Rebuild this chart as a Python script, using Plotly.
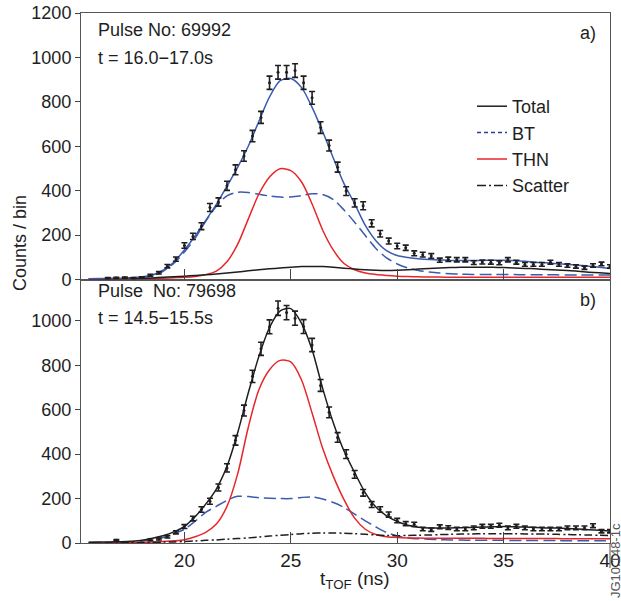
import plotly.graph_objects as go

# ---------------- data ----------------
T_BINS = [16.4, 16.8, 17.2, 17.6, 18.0, 18.4, 18.8, 19.2, 19.6, 20.0,
          20.4, 20.8, 21.2, 21.6, 22.0, 22.4, 22.8, 23.2, 23.6, 24.0,
          24.4, 24.8, 25.2, 25.6, 26.0, 26.4, 26.8, 27.2, 27.6, 28.0,
          28.4, 28.8, 29.2, 29.6, 30.0, 30.4, 30.8, 31.2, 31.6, 32.0,
          32.4, 32.8, 33.2, 33.6, 34.0, 34.4, 34.8, 35.2, 35.6, 36.0,
          36.4, 36.8, 37.2, 37.6, 38.0, 38.4, 38.8, 39.2, 39.6, 40.0]

COUNTS_A = [6, 7, 8, 6, 9, 19, 30, 60, 92, 153,
            194, 240, 324, 349, 422, 494, 556, 646, 730, 886,
            933, 933, 941, 886, 818, 684, 603, 506, 398, 345,
            332, 253, 206, 173, 151, 143, 118, 112, 106, 87,
            91, 89, 89, 76, 79, 78, 75, 89, 78, 68,
            68, 68, 78, 68, 63, 59, 53, 63, 70, 59]

COUNTS_B = [None, 12, None, None, None, 14, 18, 28, 48, 74,
            110, 151, 188, 250, 338, 462, 596, 750, 874, 973,
            1057, 1037, 1012, 974, 891, 709, 588, 475, 400, 309,
            226, 173, 151, 128, 101, 87, 84, 63, 60, 73,
            69, 63, 63, 68, 75, 75, 80, 68, 75, 68,
            63, 63, 63, 63, 68, 68, 68, 78, 53, 53]

T_FIT = [15.5, 16.0, 16.5, 17.0, 17.5, 18.0, 18.5, 19.0, 19.5, 20.0,
         20.5, 21.0, 21.5, 22.0, 22.5, 23.0, 23.5, 24.0, 24.5, 25.0,
         25.5, 26.0, 26.5, 27.0, 27.5, 28.0, 28.5, 29.0, 29.5, 30.0,
         30.5, 31.0, 31.5, 32.0, 32.5, 33.0, 33.5, 34.0, 34.5, 35.0,
         35.5, 36.0, 36.5, 37.0, 37.5, 38.0, 38.5, 39.0, 39.5, 40.0]

# panel a) Pulse 69992
TOTAL_A = [3, 4, 5, 6, 8, 12, 20, 42, 78, 133,
           196, 266, 338, 420, 505, 600, 712, 822, 895, 905,
           865, 775, 665, 546, 432, 341, 244, 175, 130, 108,
           99, 93, 90, 88, 86, 86, 86, 86, 87, 87,
           85, 82, 78, 75, 71, 68, 64, 60, 55, 50]
BT_A = [2, 3, 4, 5, 7, 10, 17, 37, 72, 124,
        186, 262, 330, 377, 393, 392, 384, 376, 371, 372,
        378, 386, 383, 360, 313, 258, 198, 140, 97, 70,
        52, 41, 34, 29, 26, 24, 23, 23, 22, 22,
        22, 21, 21, 21, 21, 20, 20, 20, 20, 20]
THN_A = [1, 1, 2, 2, 3, 4, 5, 6, 8, 10,
         14, 22, 38, 80, 158, 272, 385, 462, 499, 490,
         440, 340, 222, 132, 72, 44, 29, 22, 18, 15,
         13, 12, 11, 11, 10, 10, 10, 10, 10, 10,
         10, 10, 10, 10, 10, 10, 10, 10, 10, 10]
SCATTER_A = [1, 1, 2, 3, 4, 5, 7, 10, 12, 15,
             18, 21, 25, 29, 34, 39, 44, 48, 52, 55,
             58, 59, 58, 55, 51, 47, 44, 42, 41, 42,
             44, 47, 50, 52, 54, 55, 55, 55, 55, 54,
             52, 50, 48, 45, 43, 40, 37, 33, 30, 27]

# panel b) Pulse 79698
TOTAL_B = [3, 4, 5, 6, 8, 12, 22, 33, 50, 75,
           118, 175, 243, 345, 495, 675, 840, 970, 1045, 1055,
           990, 870, 695, 540, 414, 317, 226, 162, 122, 97,
           80, 71, 68, 68, 68, 69, 70, 72, 73, 74,
           73, 72, 70, 68, 67, 65, 63, 60, 57, 53]
BT_B = [2, 2, 3, 4, 5, 8, 15, 25, 42, 62,
        98, 138, 165, 192, 210, 209, 204, 201, 200, 200,
        205, 207, 198, 182, 160, 130, 100, 72, 47, 32,
        23, 19, 17, 15, 14, 13, 12, 12, 12, 12,
        11, 11, 11, 11, 11, 10, 10, 10, 10, 10]
THN_B = [0, 0, 1, 1, 2, 3, 4, 7, 10, 15,
         28, 48, 85, 165, 310, 520, 690, 780, 822, 815,
         735, 585, 425, 300, 195, 112, 62, 38, 28, 25,
         23, 22, 21, 21, 21, 21, 21, 21, 20, 20,
         20, 20, 20, 20, 20, 19, 19, 19, 19, 19]
SCATTER_B = [0, 0, 0, 1, 1, 2, 3, 4, 5, 7,
             9, 12, 14, 17, 20, 23, 27, 31, 35, 38,
             42, 44, 45, 45, 44, 42, 39, 36, 34, 33,
             34, 35, 36, 38, 39, 40, 41, 42, 42, 42,
             42, 41, 40, 40, 39, 38, 37, 36, 35, 34]

Y_TICKS_A = [0, 200, 400, 600, 800, 1000, 1200]
Y_TICKS_B = [0, 200, 400, 600, 800, 1000]
X_TICKS = [20, 25, 30, 35, 40]

LEGEND_NAMES = ["Total", "BT", "THN", "Scatter"]

# ---------------- styling ----------------
BLUE = "#3a5bb0"
RED = "#e8262a"
BLACK = "#1e1e1e"
FONT = "Liberation Sans, Arial, sans-serif"
W, H = 621, 601
ML, MR, MT, MB = 81, 11, 13, 58
PW, PH = W - ML - MR, H - MT - MB


def px_x(px):
    return (px - ML) / PW


def px_y(py):
    return (H - MB - py) / PH


SPLIT = px_y(279.5)

fig = go.Figure()


def curve(x, y, color, dash, xa, ya, width=1.5):
    fig.add_trace(go.Scatter(x=x, y=y, mode="lines", xaxis=xa, yaxis=ya,
                             line=dict(color=color, width=width, dash=dash,
                                       shape="spline", smoothing=0.8),
                             showlegend=False, hoverinfo="skip"))


def data(x, y, xa, ya):
    err = [None if v is None else v ** 0.5 for v in y]
    fig.add_trace(go.Scatter(x=x, y=y, mode="markers", xaxis=xa, yaxis=ya,
                             marker=dict(color=BLACK, size=3),
                             error_y=dict(type="data", array=err, color=BLACK,
                                          thickness=1.6, width=3),
                             showlegend=False))


# panel a (top)
curve(T_FIT, BT_A, BLUE, "12px,5px", "x2", "y2")
curve(T_FIT, THN_A, RED, "solid", "x2", "y2")
curve(T_FIT, SCATTER_A, BLACK, "solid", "x2", "y2")
curve(T_FIT, TOTAL_A, BLUE, "solid", "x2", "y2")
data(T_BINS, COUNTS_A, "x2", "y2")

# panel b (bottom)
curve(T_FIT, BT_B, BLUE, "12px,5px", "x", "y")
curve(T_FIT, THN_B, RED, "solid", "x", "y")
curve(T_FIT, SCATTER_B, BLACK, "8px,3px,2px,3px", "x", "y")
curve(T_FIT, TOTAL_B, BLACK, "solid", "x", "y")
data(T_BINS, COUNTS_B, "x", "y")

# legend entries
leg_styles = [(BLACK, "solid"), ("#2b3f9e", "4px,3px"), (RED, "solid"),
              (BLACK, "9px,3px,2px,3px")]
for i, (name, (c, d)) in enumerate(zip(LEGEND_NAMES, leg_styles)):
    fig.add_trace(go.Scatter(x=[None], y=[None], mode="lines", name=name,
                             xaxis="x2", yaxis="y2",
                             line=dict(color=c, width=1.5, dash=d)))

axis_line = dict(showline=True, linecolor="#555", linewidth=1, mirror=True,
                 showgrid=False, zeroline=False, automargin=False)
xcommon = dict(range=[15.14, 40], tickvals=X_TICKS, ticks="inside", ticklen=11,
               tickcolor="#444", tickwidth=1, **axis_line)
ycommon = dict(ticks="outside", ticklen=5, tickcolor="#444", tickwidth=1,
               tickfont=dict(size=18, color=BLACK, family=FONT), **axis_line)

fig.update_layout(
    template="none",
    width=W, height=H,
    margin=dict(l=ML, r=MR, t=MT, b=MB, pad=0, autoexpand=False),
    paper_bgcolor="white", plot_bgcolor="white",
    font=dict(family=FONT, size=18, color=BLACK),
    xaxis=dict(anchor="y", domain=[0, 1], showticklabels=True,
               tickfont=dict(size=19, color=BLACK, family=FONT), **xcommon),
    xaxis2=dict(anchor="y2", domain=[0, 1], matches="x", showticklabels=False,
                **xcommon),
    yaxis=dict(anchor="x", domain=[0, SPLIT], range=[0, 1186],
               tickvals=Y_TICKS_B, **ycommon),
    yaxis2=dict(anchor="x2", domain=[SPLIT, 1], range=[0, 1200],
                tickvals=Y_TICKS_A, **ycommon),
    legend=dict(x=px_x(472), y=px_y(88), xanchor="left", yanchor="top",
                bgcolor="rgba(0,0,0,0)", borderwidth=0,
                font=dict(size=18, color=BLACK), tracegroupgap=0),
    showlegend=True,
)

ann = [
    ("Pulse No: 69992", 96, 30, "left", 18),
    ("t = 16.0\u221217.0s", 96, 58, "left", 18),
    ("a)", 598, 33, "right", 18),
    ("Pulse  No: 79698", 96, 291, "left", 18),
    ("t = 14.5\u221215.5s", 96, 318, "left", 18),
    ("b)", 598, 300, "right", 18),
]
for text, x, y, xa, s in ann:
    fig.add_annotation(text=text, x=px_x(x), y=px_y(y), xref="paper", yref="paper",
                       xanchor=xa, yanchor="middle", showarrow=False,
                       font=dict(size=s, color=BLACK, family=FONT))

fig.add_annotation(text="Counts / bin", x=px_x(20), y=px_y(243), xref="paper",
                   yref="paper", textangle=-90, showarrow=False,
                   xanchor="center", yanchor="middle",
                   font=dict(size=18, color=BLACK, family=FONT))
fig.add_annotation(text="t<sub>TOF</sub> (ns)", x=px_x(355), y=px_y(580),
                   xref="paper", yref="paper", showarrow=False,
                   xanchor="center", yanchor="middle",
                   font=dict(size=19, color=BLACK, family=FONT))
fig.add_annotation(text="JG10.148-1c", x=px_x(615), y=px_y(561), xref="paper",
                   yref="paper", textangle=-90, showarrow=False,
                   xanchor="center", yanchor="middle",
                   font=dict(size=13, color="#555", family=FONT))

fig.add_shape(type="line", xref="paper", yref="paper", x0=1, x1=1,
              y0=0, y1=px_y(568), line=dict(color="#555", width=1))

fig.write_html("out.html",
               config={"displayModeBar": False},
               post_script="document.body.style.margin='0';"
                           "document.body.style.overflow='hidden';")
